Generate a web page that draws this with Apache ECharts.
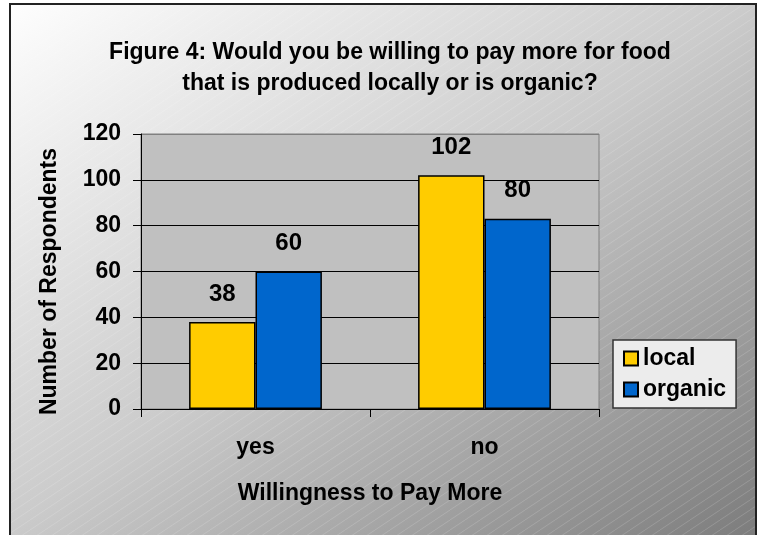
<!DOCTYPE html>
<html>
<head>
<meta charset="utf-8">
<script src="https://cdn.jsdelivr.net/npm/echarts@6/dist/echarts.min.js"></script>
<style>
html,body{margin:0;padding:0;background:#fff;}
#chart{width:759px;height:535px;}
</style>
</head>
<body>
<div id="chart"></div>
<script>
const titleText = 'Figure 4: Would you be willing to pay more for food\nthat is produced locally or is organic?';
const categories = ['yes', 'no'];
const seriesNames = ['local', 'organic'];
const localValues = [38, 102];
const organicValues = [60, 83];
const localLabels = ['38', '102'];
const organicLabels = ['60', '80'];
const yTicks = { min: 0, max: 120, interval: 20 };
const xAxisName = 'Willingness to Pay More';
const yAxisName = 'Number of Respondents';

const FONT = '"Liberation Sans", Arial, sans-serif';
const chart = echarts.init(document.getElementById('chart'), null, { renderer: 'canvas' });

// subtle diagonal hatch pattern tile
const tile = document.createElement('canvas');
tile.width = 15; tile.height = 10;
(function () {
  const c = tile.getContext('2d');
  c.strokeStyle = 'rgba(255,255,255,0.16)';
  c.lineWidth = 1;
  c.beginPath();
  c.moveTo(-15, 20); c.lineTo(30, -10);
  c.stroke();
})();

const labelStyle = (labels) => ({
  show: true,
  position: 'top',
  distance: 16,
  fontFamily: FONT,
  fontWeight: 'bold',
  fontSize: 24,
  color: '#000',
  formatter: (p) => labels[p.dataIndex]
});

chart.setOption({
  backgroundColor: '#ffffff',
  animation: false,
  title: {
    text: titleText,
    left: 385,
    top: 32,
    textAlign: 'center',
    textStyle: { fontFamily: FONT, fontWeight: 'bold', fontSize: 23, lineHeight: 31, color: '#000' }
  },
  grid: {
    left: 141, right: 160, top: 134, bottom: 126,
    show: true, backgroundColor: '#c0c0c0', borderColor: '#808080', borderWidth: 1
  },
  legend: {
    orient: 'vertical',
    left: 613, top: 340,
    padding: [7, 10, 7, 10],
    itemGap: 8,
    itemWidth: 14, itemHeight: 14,
    icon: 'rect',
    backgroundColor: '#ececec',
    borderColor: '#333',
    borderWidth: 1.5,
    textStyle: { fontFamily: FONT, fontWeight: 'bold', fontSize: 23, color: '#000' },
    data: seriesNames
  },
  xAxis: {
    type: 'category',
    data: categories,
    name: xAxisName,
    nameLocation: 'middle',
    nameGap: 73,
    nameTextStyle: { fontFamily: FONT, fontWeight: 'bold', fontSize: 23, color: '#000' },
    axisLine: { lineStyle: { color: '#000', width: 1 } },
    axisTick: { show: true, length: 8, inside: false, lineStyle: { color: '#000' } },
    axisLabel: { margin: 27, fontFamily: FONT, fontWeight: 'bold', fontSize: 23, color: '#000' }
  },
  yAxis: {
    type: 'value',
    min: yTicks.min, max: yTicks.max, interval: yTicks.interval,
    name: yAxisName,
    nameLocation: 'middle',
    nameGap: 80,
    nameTextStyle: { fontFamily: FONT, fontWeight: 'bold', fontSize: 23, color: '#000', padding: [0, 20, 0, 0] },
    axisLine: { show: true, lineStyle: { color: '#000', width: 1 } },
    axisTick: { show: true, length: 8, lineStyle: { color: '#000' } },
    axisLabel: { margin: 20, fontFamily: FONT, fontWeight: 'bold', fontSize: 23, color: '#000' },
    splitLine: { show: true, lineStyle: { color: ['#000', '#000', '#000', '#000', '#000', '#000', '#808080'], width: 1 } }
  },
  series: [
    {
      name: seriesNames[0], type: 'bar', data: localValues,
      barGap: '0%', barCategoryGap: '42%',
      itemStyle: { color: '#ffcc00', borderColor: '#000', borderWidth: 1.5 },
      label: labelStyle(localLabels)
    },
    {
      name: seriesNames[1], type: 'bar', data: organicValues,
      barGap: '0%', barCategoryGap: '42%',
      itemStyle: { color: '#0066cc', borderColor: '#000', borderWidth: 1.5 },
      label: labelStyle(organicLabels)
    }
  ],
  graphic: [
    { type: 'rect', silent: true, z: -10,
      shape: { x: 10, y: 4, width: 746, height: 545 },
      style: {
        fill: new echarts.graphic.LinearGradient(0, 0, 504, 715, [
          { offset: 0, color: '#ffffff' },
          { offset: 0.5, color: '#cbcbcb' },
          { offset: 1, color: '#7c7c7c' }
        ], true),
        stroke: null
      } },
    { type: 'rect', silent: true, z: -9,
      shape: { x: 11, y: 5, width: 744, height: 545 },
      style: { fill: { image: tile, repeat: 'repeat' }, stroke: null } },
    { type: 'rect', silent: true, z: 100,
      shape: { x: 10, y: 4, width: 746, height: 545 },
      style: { fill: null, stroke: '#222', lineWidth: 2 } }
  ]
});
</script>
</body>
</html>
